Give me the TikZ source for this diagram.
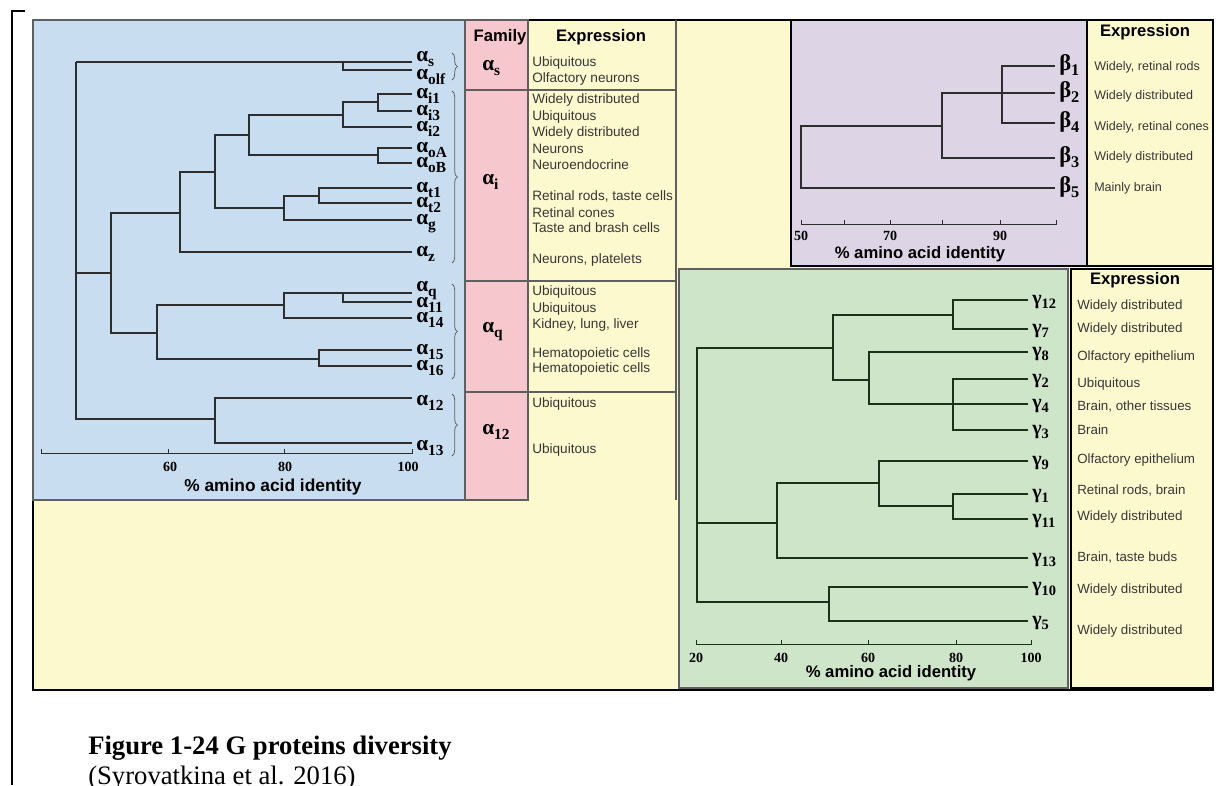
\documentclass[tikz,border=0pt]{standalone}
\usepackage{fontspec}
\usepackage{graphicx}
\setmainfont{Liberation Serif}
\setsansfont{Liberation Sans}
\usetikzlibrary{decorations.pathreplacing}
\definecolor{bgyellow}{RGB}{253,249,206}
\definecolor{alphablue}{RGB}{200,222,240}
\definecolor{familypink}{RGB}{246,199,204}
\definecolor{betapurple}{RGB}{221,213,230}
\definecolor{gammagreen}{RGB}{206,229,201}
\definecolor{treeline}{RGB}{45,45,45}
\definecolor{gammaline}{RGB}{28,48,28}
\definecolor{exprtext}{RGB}{55,55,55}
\definecolor{panelrule}{RGB}{95,95,95}
\newcommand{\gsub}[2]{#1\raisebox{-0.45ex}{\scalebox{0.72}{#2}}}

\begin{document}
\begin{tikzpicture}[x=0.75pt,y=-0.75pt,
    tree/.style={treeline, line width=0.9pt},
    gtree/.style={gammaline, line width=1pt},
    panel/.style={draw=panelrule, line width=1.1pt},
    leaf/.style={anchor=west, inner xsep=3pt, inner ysep=0pt, text height=7pt, text depth=0pt, font=\fontsize{16}{16}\selectfont\bfseries},
    bleaf/.style={leaf, font=\fontsize{17}{17}\selectfont\bfseries},
    gleaf/.style={leaf, text height=6.5pt, font=\fontsize{15}{15}\selectfont\bfseries},
    fam/.style={anchor=west, inner sep=0pt, text height=7pt, text depth=0pt, font=\fontsize{16}{16}\selectfont\bfseries},
    expr/.style={anchor=west, inner sep=0pt, text height=7pt, text depth=0pt, font=\sffamily\fontsize{10.2}{12}\selectfont, text=exprtext},
    bexpr/.style={expr, font=\sffamily\fontsize{9.4}{11}\selectfont},
    gexpr/.style={expr, font=\sffamily\fontsize{10}{12}\selectfont},
    hdr/.style={inner sep=0pt, font=\sffamily\bfseries\fontsize{12.5}{14}\selectfont},
    tick/.style={inner sep=0pt, font=\bfseries\fontsize{10.5}{12}\selectfont},
    axtitle/.style={inner sep=0pt, font=\sffamily\bfseries\fontsize{12.5}{14}\selectfont},
    grp/.style={draw=panelrule, line width=0.6pt, decorate, decoration={brace, amplitude=4pt}}
]
    \useasboundingbox (0,0) rectangle (1216,785);

    % Frames and panels
    \draw[line width=1.5pt] (25,11) -- (12,11) -- (12,785);
    \draw[fill=bgyellow, line width=1.5pt] (33,20) rectangle (1213,690);
    \draw[panel, fill=alphablue] (33,20) rectangle (465,500);
    \draw[panel, fill=familypink] (465,20) rectangle (528,500);
    \draw[panel] (528,20) -- (528,500) (676,20) -- (676,500);
    \draw[panel, line width=0.8pt] (465,90) -- (676,90) (465,281) -- (676,281) (465,392) -- (676,392);
    \draw[panel, fill=betapurple, draw=black] (791,20) rectangle (1087,266);
    \draw[line width=1.1pt] (1087,266) -- (1213,266);
    \draw[panel, fill=gammagreen] (679,269) rectangle (1068,688);
    \draw[fill=bgyellow, line width=1.5pt] (1071,269) rectangle (1213,688);

    % Alpha tree
    \coordinate (as) at (412,62);
    \coordinate (aolf) at (412,70);
    \coordinate (ai1) at (412,94);
    \coordinate (ai3) at (412,111);
    \coordinate (ai2) at (412,127);
    \coordinate (aoA) at (412,148);
    \coordinate (aoB) at (412,163);
    \coordinate (at1) at (412,188);
    \coordinate (at2) at (412,203);
    \coordinate (ag) at (412,220);
    \coordinate (az) at (412,252);
    \coordinate (aq) at (412,293);
    \coordinate (a11) at (412,302);
    \coordinate (a14) at (412,318);
    \coordinate (a15) at (412,350);
    \coordinate (a16) at (412,366);
    \coordinate (a12) at (412,398);
    \coordinate (a13) at (412,443);

    \node[leaf] (as-l) at (412,57) {\gsub{α}{s}};
    \node[leaf] (aolf-l) at (412,75) {\gsub{α}{olf}};
    \node[leaf] (ai1-l) at (ai1) {\gsub{α}{i1}};
    \node[leaf] (ai3-l) at (ai3) {\gsub{α}{i3}};
    \node[leaf] (ai2-l) at (ai2) {\gsub{α}{i2}};
    \node[leaf] (aoA-l) at (aoA) {\gsub{α}{oA}};
    \node[leaf] (aoB-l) at (aoB) {\gsub{α}{oB}};
    \node[leaf] (at1-l) at (at1) {\gsub{α}{t1}};
    \node[leaf] (at2-l) at (at2) {\gsub{α}{t2}};
    \node[leaf] (ag-l) at (ag) {\gsub{α}{g}};
    \node[leaf] (az-l) at (az) {\gsub{α}{z}};
    \node[leaf] (aq-l) at (412,287) {\gsub{α}{q}};
    \node[leaf] (a11-l) at (412,303) {\gsub{α}{11}};
    \node[leaf] (a14-l) at (a14) {\gsub{α}{14}};
    \node[leaf] (a15-l) at (a15) {\gsub{α}{15}};
    \node[leaf] (a16-l) at (a16) {\gsub{α}{16}};
    \node[leaf] (a12-l) at (412,401) {\gsub{α}{12}};
    \node[leaf] (a13-l) at (412,446) {\gsub{α}{13}};

    \draw[tree] (76,62) -- (as);
    \draw[tree] (343,62) |- (aolf);
    \draw[tree] (ai1) -| (378,111) -- (ai3);
    \draw[tree] (378,102) -| (343,127) -- (ai2);
    \draw[tree] (aoA) -| (378,163) -- (aoB);
    \draw[tree] (343,115) -| (249,155) -- (378,155);
    \draw[tree] (at1) -| (319,203) -- (at2);
    \draw[tree] (319,196) -| (284,220) -- (ag);
    \draw[tree] (249,135) -| (215,208) -- (284,208);
    \draw[tree] (215,172) -| (180,252) -- (az);
    \draw[tree] (180,213) -| (111,333) -- (157,333);
    \draw[tree] (aq) -| (343,302) -- (a11);
    \draw[tree] (343,293) -| (284,318) -- (a14);
    \draw[tree] (a15) -| (319,366) -- (a16);
    \draw[tree] (284,305) -| (157,359) -- (319,359);
    \draw[tree] (111,273) -- (76,273);
    \draw[tree] (76,62) -- (76,419) -- (215,419);
    \draw[tree] (a12) -| (215,443) -- (a13);

    \draw[grp] (452,53) -- (452,80);
    \draw[grp] (452,91) -- (452,263);
    \draw[grp] (452,284) -- (452,379);
    \draw[grp] (452,394) -- (452,456);

    \draw[tree, line width=0.7pt] (41,449) -- (41,453) -- (412,453) -- (412,449) (168,453) -- (168,449) (284,453) -- (284,449);
    \node[tick] (a60) at (170,467) {60};
    \node[tick] (a80) at (285,467) {80};
    \node[tick] (a100) at (408,467) {100};
    \node[axtitle, font=\sffamily\bfseries\fontsize{13}{15}\selectfont] (atitle) at (273,487) {\% amino acid identity};

    % Family column
    \node[hdr] (famhdr) at (500,37) {Family};
    \node[fam] (fs) at (482,66) {\gsub{α}{s}};
    \node[fam] (fi) at (482,180) {\gsub{α}{i}};
    \node[fam] (fq) at (482,328) {\gsub{α}{q}};
    \node[fam] (f12) at (482,430) {\gsub{α}{12}};

    % Alpha expression column
    \node[hdr] (aexhdr) at (601,37) {Expression};
    \node[expr] (ex1) at (532,62) {Ubiquitous};
    \node[expr] (ex2) at (532,78) {Olfactory neurons};
    \node[expr] (ex3) at (532,99) {Widely distributed};
    \node[expr] (ex4) at (532,116) {Ubiquitous};
    \node[expr] (ex5) at (532,132) {Widely distributed};
    \node[expr] (ex6) at (532,149) {Neurons};
    \node[expr] (ex7) at (532,165) {Neuroendocrine};
    \node[expr] (ex8) at (532,196) {Retinal rods, taste cells};
    \node[expr] (ex9) at (532,213) {Retinal cones};
    \node[expr] (ex10) at (532,228) {Taste and brash cells};
    \node[expr] (ex11) at (532,259) {Neurons, platelets};
    \node[expr] (ex12) at (532,291) {Ubiquitous};
    \node[expr] (ex13) at (532,308) {Ubiquitous};
    \node[expr] (ex14) at (532,324) {Kidney, lung, liver};
    \node[expr] (ex15) at (532,353) {Hematopoietic cells};
    \node[expr] (ex16) at (532,368) {Hematopoietic cells};
    \node[expr] (ex17) at (532,403) {Ubiquitous};
    \node[expr] (ex18) at (532,449) {Ubiquitous};

    % Beta tree
    \node[bleaf] (b1) at (1055,66) {\gsub{β}{1}};
    \node[bleaf] (b2) at (1055,93) {\gsub{β}{2}};
    \node[bleaf] (b4) at (1055,123) {\gsub{β}{4}};
    \node[bleaf] (b3) at (1055,158) {\gsub{β}{3}};
    \node[bleaf] (b5) at (1055,188) {\gsub{β}{5}};

    \draw[tree] (b1.west) -| (1002,123) -- (b4.west);
    \draw[tree] (b2.west) -| (942,158) -- (b3.west);
    \draw[tree] (942,126) -| (801,188) -- (b5.west);

    \draw[tree, line width=0.7pt] (801,220) -- (801,224) -- (1056,224) -- (1056,220) (844,224) -- (844,220) (890,224) -- (890,220) (942,224) -- (942,220) (1000,224) -- (1000,220);
    \node[tick] (b50) at (801,236) {50};
    \node[tick] (b70) at (890,236) {70};
    \node[tick] (b90) at (1000,236) {90};
    \node[axtitle] (btitle) at (920,254) {\% amino acid identity};

    \node[hdr] (bexhdr) at (1145,32) {Expression};
    \node[bexpr] (bx1) at (1094,66) {Widely, retinal rods};
    \node[bexpr] (bx2) at (1094,95) {Widely distributed};
    \node[bexpr] (bx3) at (1094,126) {Widely, retinal cones};
    \node[bexpr] (bx4) at (1094,156) {Widely distributed};
    \node[bexpr] (bx5) at (1094,187) {Mainly brain};

    % Gamma tree
    \node[gleaf] (g12) at (1028,300) {\gsub{γ}{12}};
    \node[gleaf] (g7) at (1028,329) {\gsub{γ}{7}};
    \node[gleaf] (g8) at (1028,352) {\gsub{γ}{8}};
    \node[gleaf] (g2) at (1028,379) {\gsub{γ}{2}};
    \node[gleaf] (g4) at (1028,404) {\gsub{γ}{4}};
    \node[gleaf] (g3) at (1028,430) {\gsub{γ}{3}};
    \node[gleaf] (g9) at (1028,461) {\gsub{γ}{9}};
    \node[gleaf] (g1) at (1028,494) {\gsub{γ}{1}};
    \node[gleaf] (g11) at (1028,519) {\gsub{γ}{11}};
    \node[gleaf] (g13) at (1028,558) {\gsub{γ}{13}};
    \node[gleaf] (g10) at (1028,587) {\gsub{γ}{10}};
    \node[gleaf] (g5) at (1028,621) {\gsub{γ}{5}};

    \draw[gtree] (g12.west) -| (953,329) -- (g7.west);
    \draw[gtree] (953,315) -| (833,380) -- (869,380);
    \draw[gtree] (g8.west) -| (869,404) -- (g4.west);
    \draw[gtree] (g2.west) -| (953,430) -- (g3.west);
    \draw[gtree] (833,348) -| (697,602) -- (829,602);
    \draw[gtree] (g10.west) -| (829,621) -- (g5.west);
    \draw[gtree] (g9.west) -| (879,506) -- (953,506);
    \draw[gtree] (g1.west) -| (953,519) -- (g11.west);
    \draw[gtree] (879,483) -| (777,558) -- (g13.west);
    \draw[gtree] (777,523) -- (697,523);

    \draw[gtree, line width=0.7pt] (696,640) -- (696,644) -- (1031,644) -- (1031,640) (781,644) -- (781,640) (868,644) -- (868,640) (956,644) -- (956,640);
    \node[tick] (g20) at (696,658) {20};
    \node[tick] (g40) at (781,658) {40};
    \node[tick] (g60) at (868,658) {60};
    \node[tick] (g80) at (956,658) {80};
    \node[tick] (g100) at (1031,658) {100};
    \node[axtitle] (gtitle) at (891,673) {\% amino acid identity};

    \node[hdr] (gexhdr) at (1135,280) {Expression};
    \node[gexpr] (gx1) at (1077,305) {Widely distributed};
    \node[gexpr] (gx2) at (1077,328) {Widely distributed};
    \node[gexpr] (gx3) at (1077,356) {Olfactory epithelium};
    \node[gexpr] (gx4) at (1077,383) {Ubiquitous};
    \node[gexpr] (gx5) at (1077,406) {Brain, other tissues};
    \node[gexpr] (gx6) at (1077,430) {Brain};
    \node[gexpr] (gx7) at (1077,459) {Olfactory epithelium};
    \node[gexpr] (gx8) at (1077,490) {Retinal rods, brain};
    \node[gexpr] (gx9) at (1077,516) {Widely distributed};
    \node[gexpr] (gx10) at (1077,557) {Brain, taste buds};
    \node[gexpr] (gx11) at (1077,589) {Widely distributed};
    \node[gexpr] (gx12) at (1077,630) {Widely distributed};

    % Caption
    \node[anchor=base west, inner sep=0pt, font=\bfseries\fontsize{20}{24}\selectfont] (figtitle) at (88,754) {Figure 1-24 G proteins diversity};
    \node[anchor=base west, inner sep=0pt, font=\fontsize{20}{24}\selectfont] (figsource) at (88,784) {(Syrovatkina et al. 2016)};
\end{tikzpicture}
\end{document}
